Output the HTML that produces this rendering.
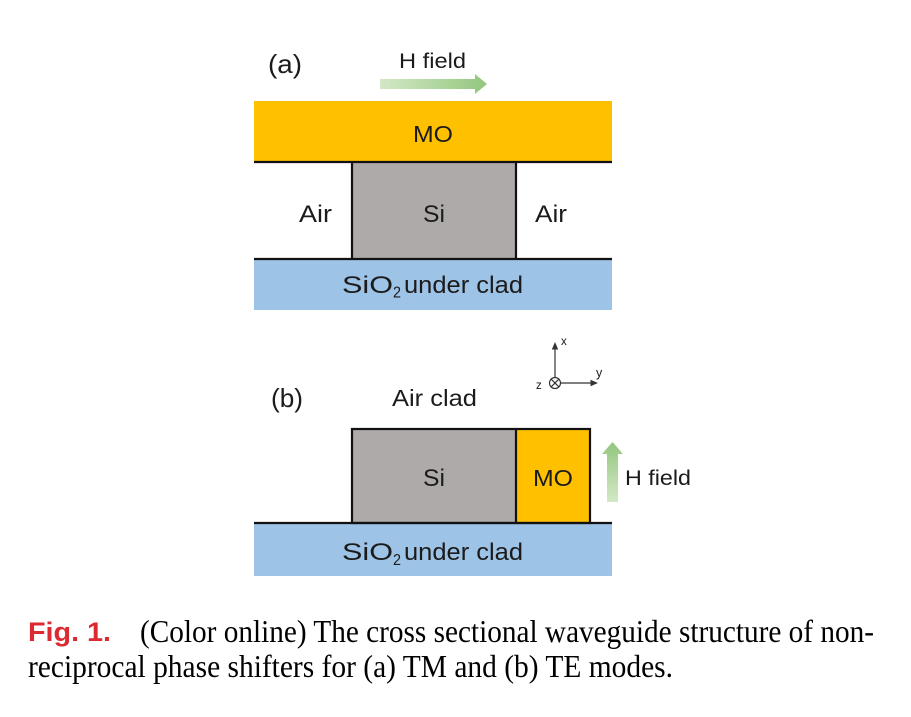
<!DOCTYPE html>
<html>
<head>
<meta charset="utf-8">
<style>
  html, body { margin:0; padding:0; background:#ffffff; }
  body { width:911px; height:717px; overflow:hidden; }
  svg { display:block; }
  .s { font-family:"Liberation Sans", Arial, sans-serif; fill:#1b1b1b; }
  .t { font-family:"Liberation Serif", "Times New Roman", serif; fill:#000; }
</style>
</head>
<body>
<svg width="911" height="717" viewBox="0 0 911 717" xmlns="http://www.w3.org/2000/svg">
  <defs>
    <linearGradient id="gh" x1="0" y1="0" x2="1" y2="0">
      <stop offset="0" stop-color="#d3e8c6"/>
      <stop offset="1" stop-color="#93c67f"/>
    </linearGradient>
    <linearGradient id="gv" x1="0" y1="1" x2="0" y2="0">
      <stop offset="0" stop-color="#d3e8c6"/>
      <stop offset="1" stop-color="#93c67f"/>
    </linearGradient>
  </defs>
  <rect width="911" height="717" fill="#ffffff"/>

  <!-- ===== (a) ===== -->
  <text class="s" x="268" y="73" font-size="26" textLength="34" lengthAdjust="spacingAndGlyphs">(a)</text>
  <text class="s" x="399" y="68" font-size="21.5" textLength="67" lengthAdjust="spacingAndGlyphs">H field</text>
  <polygon points="380,79 475,79 475,74 487,84 475,94 475,89 380,89" fill="url(#gh)"/>

  <!-- MO band -->
  <rect x="254" y="101" width="358" height="61" fill="#ffc000"/>
  <!-- Si -->
  <rect x="352" y="162" width="164" height="97" fill="#aeaaaa"/>
  <!-- SiO2 -->
  <rect x="254" y="259" width="358" height="51" fill="#9dc3e6"/>
  <!-- lines -->
  <line x1="254" y1="162" x2="612" y2="162" stroke="#111" stroke-width="2.2"/>
  <line x1="254" y1="259" x2="612" y2="259" stroke="#111" stroke-width="2.2"/>
  <line x1="352" y1="162" x2="352" y2="259" stroke="#111" stroke-width="2.2"/>
  <line x1="516" y1="162" x2="516" y2="259" stroke="#111" stroke-width="2.2"/>

  <text class="s" x="413" y="142" font-size="23.5" textLength="40" lengthAdjust="spacingAndGlyphs">MO</text>
  <text class="s" x="299" y="222" font-size="24.5" textLength="33" lengthAdjust="spacingAndGlyphs">Air</text>
  <text class="s" x="423" y="222" font-size="24.5" textLength="22" lengthAdjust="spacingAndGlyphs">Si</text>
  <text class="s" x="535" y="222" font-size="24.5" textLength="32" lengthAdjust="spacingAndGlyphs">Air</text>
  <text class="s" x="342" y="293" font-size="24" textLength="51" lengthAdjust="spacingAndGlyphs">SiO</text>
  <text class="s" x="393" y="297.5" font-size="16" textLength="8" lengthAdjust="spacingAndGlyphs">2</text>
  <text class="s" x="404" y="293" font-size="24" textLength="119" lengthAdjust="spacingAndGlyphs">under clad</text>

  <!-- ===== axes ===== -->
  <g stroke="#333" stroke-width="1.2" fill="none">
    <line x1="555" y1="377.5" x2="555" y2="348"/>
    <line x1="560.5" y1="383" x2="592" y2="383"/>
    <circle cx="555" cy="383" r="5.5"/>
    <line x1="551.2" y1="379.2" x2="558.8" y2="386.8"/>
    <line x1="558.8" y1="379.2" x2="551.2" y2="386.8"/>
  </g>
  <polygon points="555,342 551.8,349.5 558.2,349.5" fill="#333"/>
  <polygon points="598,383 590.5,379.8 590.5,386.2" fill="#333"/>
  <text class="s" x="561" y="345" font-size="11.5">x</text>
  <text class="s" x="596" y="377" font-size="12.5">y</text>
  <text class="s" x="536" y="389" font-size="11.5">z</text>

  <!-- ===== (b) ===== -->
  <text class="s" x="271" y="407" font-size="26" textLength="32" lengthAdjust="spacingAndGlyphs">(b)</text>
  <text class="s" x="392" y="406" font-size="23.5" textLength="85" lengthAdjust="spacingAndGlyphs">Air clad</text>

  <rect x="352" y="429" width="164" height="94" fill="#aeaaaa"/>
  <rect x="516" y="429" width="74" height="94" fill="#ffc000"/>
  <rect x="254" y="523" width="358" height="53" fill="#9dc3e6"/>
  <g stroke="#111" stroke-width="2.2" fill="none">
    <rect x="352" y="429" width="238" height="94"/>
    <line x1="516" y1="429" x2="516" y2="523"/>
    <line x1="254" y1="523" x2="612" y2="523"/>
  </g>

  <polygon points="612.5,442 623,454 618,454 618,502 607,502 607,454 602,454" fill="url(#gv)"/>

  <text class="s" x="423" y="486" font-size="24" textLength="22" lengthAdjust="spacingAndGlyphs">Si</text>
  <text class="s" x="533" y="486" font-size="23.5" textLength="40" lengthAdjust="spacingAndGlyphs">MO</text>
  <text class="s" x="625" y="485" font-size="21.5" textLength="66" lengthAdjust="spacingAndGlyphs">H field</text>
  <text class="s" x="342" y="560" font-size="24" textLength="51" lengthAdjust="spacingAndGlyphs">SiO</text>
  <text class="s" x="393" y="565" font-size="16" textLength="8" lengthAdjust="spacingAndGlyphs">2</text>
  <text class="s" x="404" y="560" font-size="24" textLength="119" lengthAdjust="spacingAndGlyphs">under clad</text>

  <!-- ===== caption ===== -->
  <text x="28" y="641" font-family="'Liberation Sans', Arial, sans-serif" font-weight="bold" font-size="27" fill="#dc2a32" textLength="83" lengthAdjust="spacingAndGlyphs">Fig. 1.</text>
  <text class="t" x="140" y="642" font-size="31.5" textLength="734" lengthAdjust="spacingAndGlyphs">(Color online) The cross sectional waveguide structure of non-</text>
  <text class="t" x="28" y="677" font-size="31.5" textLength="645" lengthAdjust="spacingAndGlyphs">reciprocal phase shifters for (a) TM and (b) TE modes.</text>
</svg>
</body>
</html>
